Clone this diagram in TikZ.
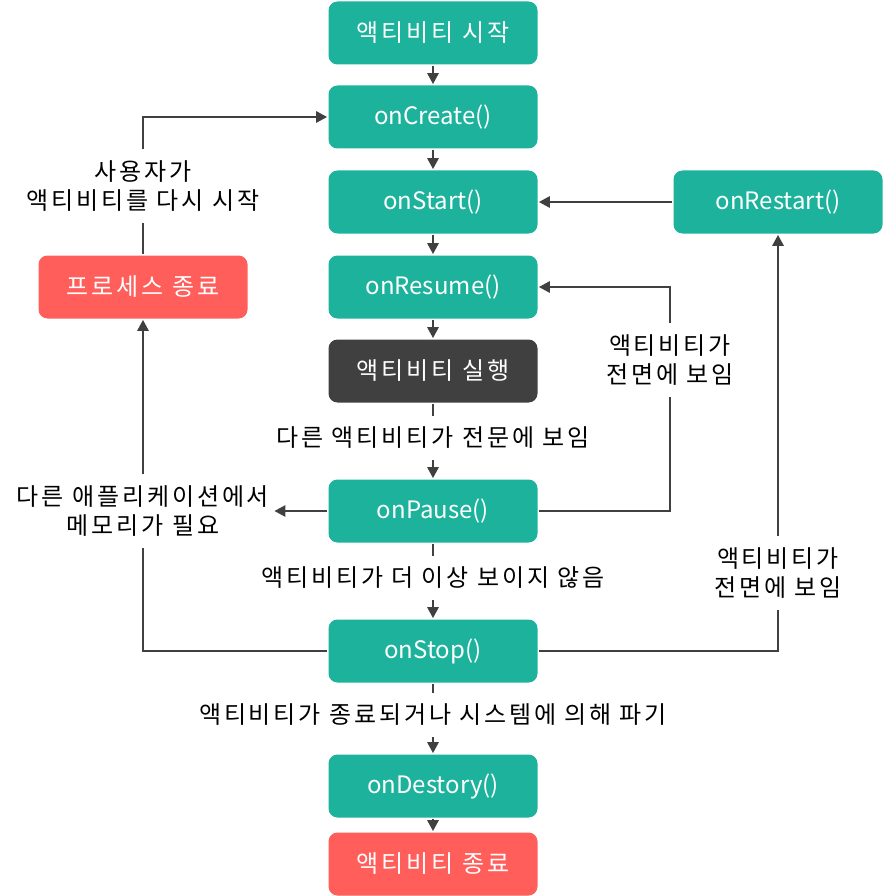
\documentclass[tikz,border=0pt]{standalone}
\usepackage{fontspec}
\setmainfont[LetterSpace=12]{Noto Sans CJK KR}
\newfontfamily\codefont{Noto Sans CJK KR}
\usetikzlibrary{arrows.meta}
\definecolor{boxteal}{RGB}{28,178,156}
\definecolor{boxred}{RGB}{255,94,91}
\definecolor{boxdark}{RGB}{64,64,64}
\definecolor{linegray}{RGB}{64,64,64}

\begin{document}
\begin{tikzpicture}[x=1pt,y=-1pt,-{Triangle[length=11pt,width=11pt]},line width=2.6pt,color=linegray]
   \useasboundingbox (0,0) rectangle (883,896);
   \tikzstyle{main}=[rounded corners=9pt, minimum width=209pt, minimum height=63pt, fill=boxteal, text=white, font=\codefont\fontsize{24}{29}\selectfont]
   \tikzstyle{word}=[main, font=\rmfamily\fontsize{24}{29}\selectfont]
   \tikzstyle{halt}=[word, fill=boxred]
   \tikzstyle{note}=[fill=white, text=black, align=center, inner xsep=4pt, inner ysep=10pt, font=\fontsize{24}{29}\selectfont]
   % main column
   \node[word] (start) at (433,33) {액티비티 시작};
   \node[main] (create) at (433,117) {onCreate()};
   \node[main] (onstart) at (433,202) {onStart()};
   \node[main] (resume) at (433,287) {onResume()};
   \node[word,fill=boxdark] (run) at (433,371) {액티비티 실행};
   \node[main] (pause) at (433,511) {onPause()};
   \node[main] (onstop) at (433,651) {onStop()};
   \node[main] (destroy) at (433,786) {onDestory()};
   \node[halt] (finish) at (433,864) {액티비티 종료};
   \node[main] (restart) at (778,202) {onRestart()};
   \node[halt] (kill) at (143,287) {프로세스 종료};
   % labels
   \node[note] (visible) at (433,438) {다른 액티비티가 전문에 보임};
   \node[note] (hidden) at (433,578) {액티비티가 더 이상 보이지 않음};
   \node[note] (destroyed) at (433,715) {액티비티가 종료되거나 시스템에 의해 파기};
   \node[note] (front1) at (670,360) {액티비티가\\전면에 보임};
   \node[note] (front2) at (778,573) {액티비티가\\전면에 보임};
   \node[note] (memory) at (143,511) {다른 애플리케이션에서\\메모리가 필요};
   \node[note] (again) at (143,186) {사용자가\\액티비티를 다시 시작};
   \foreach \a/\b in {start/create,create/onstart,onstart/resume,resume/run,destroy/finish} {
       \path (\a) edge (\b);
   }
   \path[-] (run) edge (visible);
   \path (visible) edge (pause);
   \path[-] (pause) edge (hidden);
   \path (hidden) edge (onstop);
   \path[-] (onstop) edge (destroyed);
   \path (destroyed) edge (destroy);
   \draw (restart) -- (onstart);
   \draw[-] (pause) -| (front1);
   \draw (front1) |- (resume);
   \draw[-] (onstop) -| (front2);
   \draw (front2) -- (restart);
   \draw (pause) -- (memory);
   \draw[-] (onstop) -| (memory);
   \draw (memory) -- (kill);
   \draw[-] (kill) -- (again);
   \draw (again) |- (create);
\end{tikzpicture}
\end{document}
